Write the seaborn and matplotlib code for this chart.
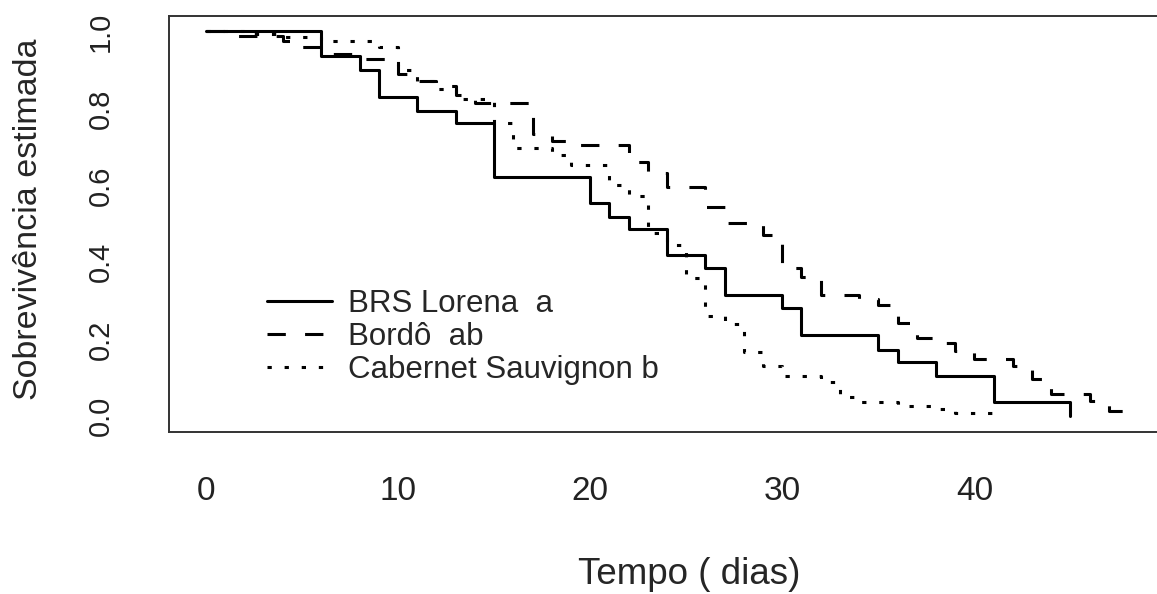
import pandas as pd
import matplotlib
matplotlib.use("Agg")
import matplotlib.pyplot as plt
import seaborn as sns

# Curvas de Kaplan-Meier (tempo em dias, sobrevivência estimada)
lorena_t = [0, 6, 8, 9, 11, 13, 15, 20, 21, 22, 24, 26, 27, 30, 31, 35, 36, 38, 41, 45]
lorena_s = [1.0, 0.936, 0.90, 0.83, 0.793, 0.763, 0.621, 0.554, 0.517, 0.487,
            0.419, 0.384, 0.314, 0.281, 0.210, 0.172, 0.141, 0.105, 0.038, 0.0]

bordo_t = [0, 1, 4, 5, 6, 8, 10, 11, 12, 13, 14, 17, 18, 19, 22, 23, 24, 26, 27, 29,
           30, 31, 32, 34, 35, 36, 37, 38, 39, 40, 42, 43, 44, 46, 47, 48]
bordo_s = [1.0, 0.987, 0.975, 0.96, 0.94, 0.929, 0.89, 0.87, 0.857, 0.835, 0.815,
           0.733, 0.715, 0.706, 0.66, 0.632, 0.597, 0.545, 0.503, 0.47, 0.386, 0.362,
           0.314, 0.305, 0.288, 0.243, 0.204, 0.19, 0.17, 0.148, 0.13, 0.097, 0.058,
           0.039, 0.013, 0.0]

cabernet_t = [0, 2, 4, 6, 9, 10, 11, 12, 13, 15, 16, 18, 19, 21, 22, 23, 24, 25, 26,
              27, 28, 29, 30, 32, 33, 34, 36, 38, 39, 41]
cabernet_s = [1.0, 0.993, 0.985, 0.976, 0.96, 0.90, 0.87, 0.85, 0.824, 0.763, 0.698,
              0.68, 0.652, 0.60, 0.573, 0.475, 0.445, 0.36, 0.26, 0.24, 0.166, 0.131,
              0.105, 0.09, 0.05, 0.037, 0.026, 0.02, 0.009, 0.009]

nomes = ["BRS Lorena  a", "Bordô  ab", "Cabernet Sauvignon b"]

df = pd.concat([
    pd.DataFrame({"tempo": lorena_t, "sobrev": lorena_s, "grupo": nomes[0]}),
    pd.DataFrame({"tempo": bordo_t, "sobrev": bordo_s, "grupo": nomes[1]}),
    pd.DataFrame({"tempo": cabernet_t, "sobrev": cabernet_s, "grupo": nomes[2]}),
], ignore_index=True)

sns.set_style("white")
plt.rcParams["font.family"] = ["Liberation Sans", "DejaVu Sans"]

fig = plt.figure(figsize=(11.57, 5.94), dpi=100)
ax = fig.add_axes([169 / 1157, (594 - 431.7) / 594, (1165 - 169) / 1157, (431.7 - 16) / 594])

tracos = {nomes[0]: "", nomes[1]: (6, 6.3), nomes[2]: (1.4, 4.2)}
sns.lineplot(data=df, x="tempo", y="sobrev", style="grupo", style_order=nomes,
             dashes=tracos, color="black", linewidth=2.2, drawstyle="steps-post",
             estimator=None, sort=False, ax=ax)

ax.set_xlim(-1.92, 49.92)
ax.set_ylim(-0.04, 1.04)
ax.set_xticks([0, 10, 20, 30, 40])
ax.set_yticks([0.0, 0.2, 0.4, 0.6, 0.8, 1.0])
ax.set_yticklabels(["0.0", "0.2", "0.4", "0.6", "0.8", "1.0"])
ax.tick_params(axis="y", length=16, width=1.4, pad=23, labelsize=21, labelrotation=90,
               color="#333333", labelcolor="#222222")
ax.tick_params(axis="x", length=13, width=1.4, pad=19, labelsize=24,
               color="#333333", labelcolor="#222222")
for lbl in ax.get_yticklabels():
    lbl.set_va("center")

for s in ax.spines.values():
    s.set_linewidth(1.4)
    s.set_color("#333333")

ax.set_xlabel("Tempo ( dias)", fontsize=26.5)
ax.xaxis.set_label_coords(0.522, -0.302)
ax.set_ylabel("Sobrevivência estimada", fontsize=24.5)
ax.yaxis.set_label_coords(-0.1255, 0.512)

handles, labels = ax.get_legend_handles_labels()
for h in handles:
    h.set_color("black")
    h.set_linewidth(2.2)
ax.legend(handles, labels, frameon=False, loc="upper left",
          bbox_to_anchor=(266.7 / 1157, 1 - 289 / 594), bbox_transform=fig.transFigure,
          fontsize=22.5, handlelength=2.1, handletextpad=0.5, labelspacing=0.1,
          borderaxespad=0, borderpad=0)

fig.savefig("out.png", dpi=100, facecolor="white")
